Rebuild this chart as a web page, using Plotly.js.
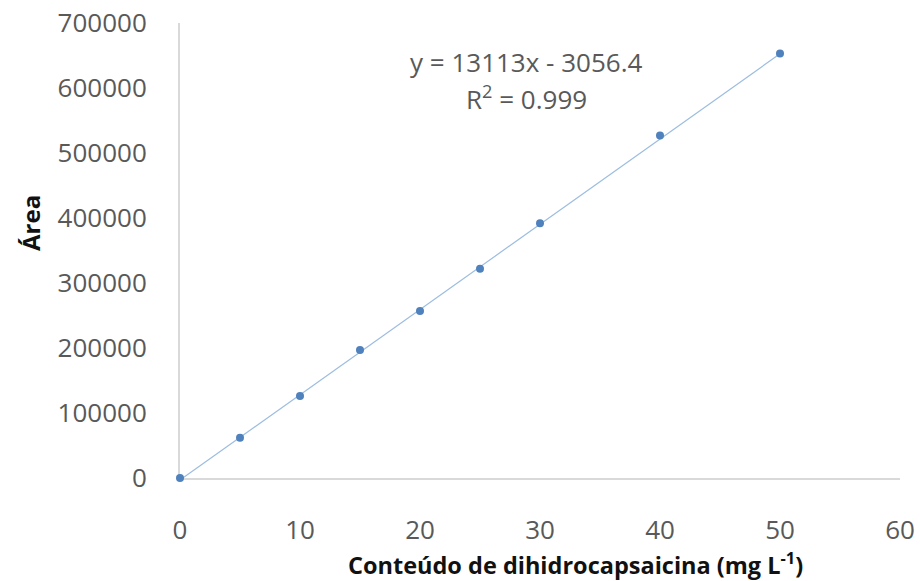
<!DOCTYPE html>
<html>
<head>
<meta charset="utf-8">
<script src="https://cdn.plot.ly/plotly-3.0.1.min.js"></script>
<style>html,body{margin:0;padding:0;background:#fff;}#chart{width:920px;height:581px;}</style>
</head>
<body>
<div id="chart"></div>
<script>
// Data
const conc = [0, 5, 10, 15, 20, 25, 30, 40, 50];
const area = [0, 62000, 126000, 197000, 257000, 322000, 392000, 527000, 653000];
const xTicks = [0, 10, 20, 30, 40, 50, 60];
const yTicks = [0, 100000, 200000, 300000, 400000, 500000, 600000, 700000];
const slope = 13113;
const intercept = -3056.4;
const equationText = 'y = 13113x - 3056.4';
const r2Text = 'R<sup>2</sup> = 0.999';
const xTitle = 'Conteúdo de dihidrocapsaicina (mg L<sup>-1</sup>)';
const yTitle = 'Área';

const trendX = [Math.min(...conc), Math.max(...conc)];
const trendY = trendX.map(x => slope * x + intercept);

const font = 'Open Sans, Noto Sans, sans-serif';

const data = [
  {
    x: trendX, y: trendY, type: 'scatter', mode: 'lines',
    line: {color: '#9dbde0', width: 1.2},
    hoverinfo: 'skip', showlegend: false, cliponaxis: false
  },
  {
    x: conc, y: area, type: 'scatter', mode: 'markers',
    marker: {color: '#4f81bd', size: 8},
    showlegend: false, cliponaxis: false
  }
];

const layout = {
  width: 920, height: 581,
  margin: {l: 180, r: 20, t: 23, b: 103},
  paper_bgcolor: '#fff', plot_bgcolor: '#fff',
  font: {family: font, color: '#595959'},
  xaxis: {
    range: [0, 60], tickvals: xTicks, ticktext: xTicks.map(String),
    showgrid: false, zeroline: false, layer: 'below traces',
    showline: true, linecolor: '#d9d9d9', linewidth: 2,
    ticks: '', ticklabelstandoff: 28,
    tickfont: {family: font, size: 26, color: '#595959'}
  },
  yaxis: {
    range: [0, 700000], tickvals: yTicks, ticktext: yTicks.map(String),
    showgrid: false, zeroline: false, layer: 'below traces',
    showline: true, linecolor: '#d9d9d9', linewidth: 2,
    ticks: '', ticklabelstandoff: 26,
    tickfont: {family: font, size: 26, color: '#595959'}
  },
  annotations: [
    {xref: 'paper', yref: 'paper', x: (575 - 180) / 720, y: (581 - 103 - 563) / 455,
     text: xTitle, showarrow: false, xanchor: 'center', yanchor: 'middle',
     font: {family: font, size: 23.5, color: '#111', weight: 'bold'}},
    {xref: 'paper', yref: 'paper', x: (30 - 180) / 720, y: (478 - 223) / 455,
     text: yTitle, showarrow: false, textangle: -90, xanchor: 'center', yanchor: 'middle',
     font: {family: font, size: 24, color: '#111', weight: 'bold'}},
    {xref: 'paper', yref: 'paper', x: (526 - 180) / 720, y: (478 - 62) / 455,
     text: equationText, showarrow: false, xanchor: 'center', yanchor: 'middle',
     font: {family: font, size: 26, color: '#595959'}},
    {xref: 'paper', yref: 'paper', x: (526 - 180) / 720, y: (478 - 98) / 455,
     text: r2Text, showarrow: false, xanchor: 'center', yanchor: 'middle',
     font: {family: font, size: 26, color: '#595959'}}
  ]
};

Plotly.newPlot('chart', data, layout, {displayModeBar: false, staticPlot: true});
</script>
</body>
</html>
